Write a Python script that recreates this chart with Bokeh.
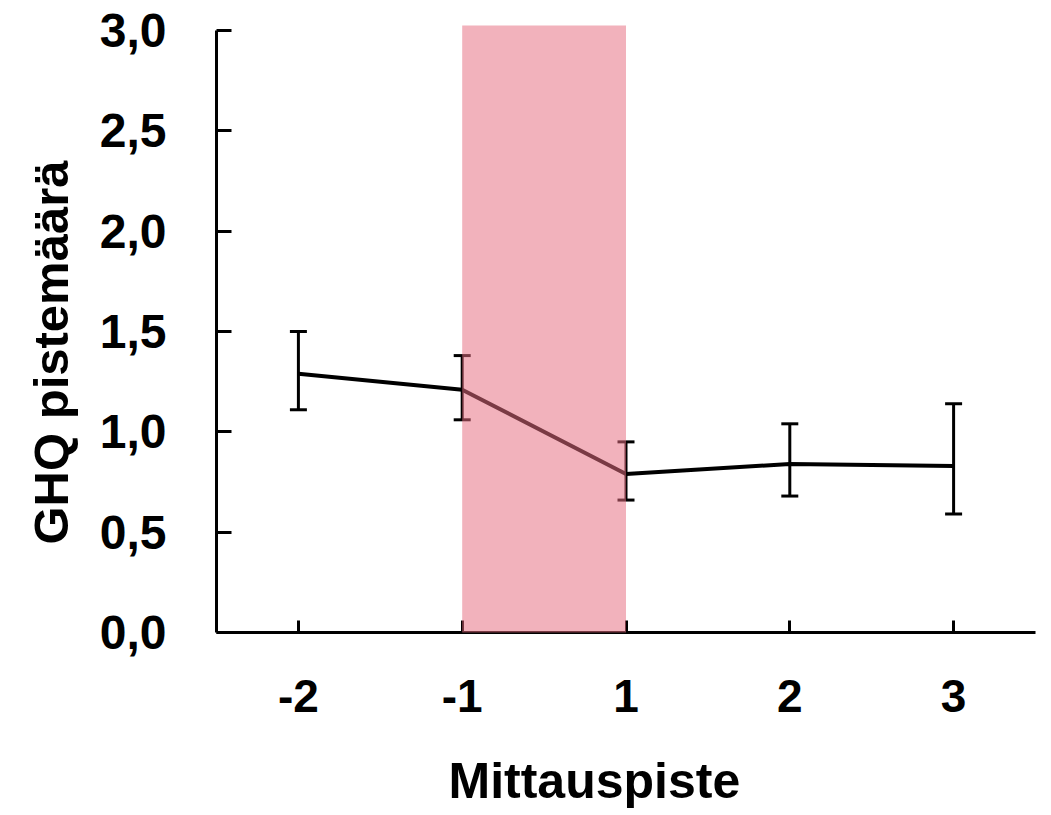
from bokeh.plotting import figure
from bokeh.models import (ColumnDataSource, Range1d, FactorRange, FixedTicker,
                          CustomJSTickFormatter, Whisker, TeeHead, Title)
from bokeh.embed import file_html
from bokeh.resources import INLINE

# Measurement points and GHQ score means with their error bar limits
points = ["-2", "-1", "1", "2", "3"]
means = [1.29, 1.21, 0.79, 0.84, 0.83]
lower = [1.11, 1.06, 0.66, 0.68, 0.59]
upper = [1.50, 1.38, 0.95, 1.04, 1.14]

# Shaded interval between two measurement points
band_start = "-1"
band_end = "1"

y_ticks = [0.0, 0.5, 1.0, 1.5, 2.0, 2.5, 3.0]

x_title = "Mittauspiste"
y_title = "GHQ pistemäärä"

FONT = "Liberation Sans"

p = figure(width=1051, height=815, output_backend="svg", toolbar_location=None,
           x_range=FactorRange(*points, range_padding=0),
           y_range=Range1d(0, 3.025))
p.min_border_left = 216
p.min_border_right = 16
p.min_border_top = 25
p.min_border_bottom = 183
p.outline_line_color = None
p.grid.visible = False
p.background_fill_color = "white"
p.border_fill_color = "white"

src = ColumnDataSource(dict(x=points, y=means, lo=lower, hi=upper))

p.line("x", "y", source=src, line_color="black", line_width=4)

whisk = Whisker(base="x", lower="lo", upper="hi", source=src,
                line_color="black", line_width=3,
                upper_head=TeeHead(size=17, line_width=3, line_color="black"),
                lower_head=TeeHead(size=17, line_width=3, line_color="black"))
p.add_layout(whisk)

# Translucent band drawn on top of the series
p.quad(left=[band_start], right=[band_end], bottom=[0], top=[3.025],
       fill_color="#E66D80", fill_alpha=0.53, line_color=None, level="overlay")

# Axes
for ax in (p.xaxis[0], p.yaxis[0]):
    ax.axis_line_width = 3
    ax.axis_line_color = "black"
    ax.major_tick_line_width = 3
    ax.major_tick_line_color = "black"
    ax.major_tick_out = 0
    ax.minor_tick_line_color = None
    ax.major_label_text_font = FONT
    ax.major_label_text_font_style = "bold"
    ax.major_label_text_color = "black"

p.xaxis.major_tick_in = 12
p.xaxis.major_label_text_font_size = "46px"
p.xaxis.major_label_standoff = 47
# blank axis label used only as vertical spacing below the tick labels
p.xaxis.axis_label = " "
p.xaxis.axis_label_text_font_size = "10px"
p.xaxis.axis_label_standoff = 15

p.yaxis.bounds = (0, 3)
p.yaxis.ticker = FixedTicker(ticks=y_ticks)
p.yaxis.formatter = CustomJSTickFormatter(code="return tick.toFixed(1).replace('.', ',');")
p.yaxis.major_tick_in = 15
p.yaxis.major_label_text_font_size = "48px"
p.yaxis.major_label_standoff = 50

# Axis titles as side titles, shifted along their edge
p.add_layout(Title(text=x_title, align="left", offset=232, standoff=14,
                   text_font=FONT, text_font_style="bold", text_font_size="50px",
                   text_color="black"), "below")
p.add_layout(Title(text=y_title, align="left", offset=88, standoff=38,
                   text_font=FONT, text_font_style="bold", text_font_size="49px",
                   text_color="black"), "left")

open("out.html", "w").write(file_html(p, INLINE))
